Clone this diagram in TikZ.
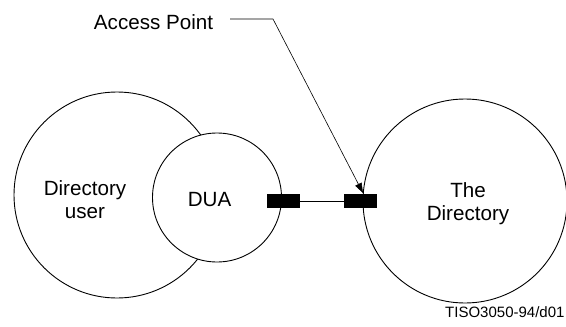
\documentclass[tikz,border=0pt]{standalone}
\usepackage{fontspec}
\setmainfont{Liberation Sans}
\usetikzlibrary{arrows.meta}

\begin{document}
\begin{tikzpicture}[x=1pt, y=-1pt]
\tikzset{cercle/.style={draw, circle, fill=white, line width=0.9pt, inner sep=0pt},
         texte/.style={align=center, font=\fontsize{20.6}{23}\selectfont},
         bloc/.style={fill=black, minimum width=33pt, minimum height=14pt, inner sep=0pt}}
\useasboundingbox (0, 0) rectangle (566, 327);
\node[cercle, minimum size=206pt] (U) at (117, 195) {};
\node[cercle, minimum size=129pt] (D) at (217, 197.5) {};
\node[cercle, minimum size=204pt] (R) at (465, 201) {};
\node[texte] (Tu) at (85, 200) {Directory\\user};
\node[texte] (Td) at (209.5, 199.5) {DUA};
\node[texte] (Tr) at (468, 204) {The\\Directory};
\node[bloc] (B1) at (283, 201.3) {};
\node[bloc] (B2) at (360.7, 201.3) {};
\draw[line width=1.2pt] (B1) -- (B2);
\node[texte] (AP) at (153.5, 22) {Access Point};
\coordinate (depart) at (230, 19);
\coordinate (coude) at (273, 19);
\coordinate (pointe) at (363, 193);
\draw[line width=0.6pt, -{Triangle[length=10pt, width=7pt]}] (depart) -- (coude) -- (pointe);
\node[anchor=east, font=\fontsize{15}{16}\selectfont] (ref) at (568, 312) {TISO3050-94/d01};
\end{tikzpicture}
\end{document}
